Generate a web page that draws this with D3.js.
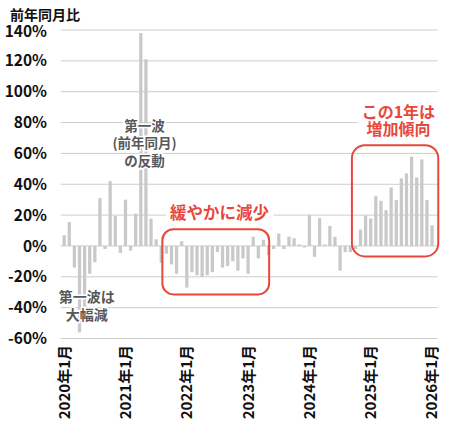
<!DOCTYPE html>
<html>
<head>
<meta charset="utf-8">
<script src="https://cdn.jsdelivr.net/npm/d3@7"></script>
<style>
  html, body { margin: 0; padding: 0; background: #fff; }
  svg { display: block; font-family: "Noto Sans CJK JP", "Noto Sans", sans-serif; }
</style>
</head>
<body>
<div id="chart"></div>
<script>
// -------- Data --------
// monthly categories 2020-01 .. 2026-01
const months = d3.timeMonth.range(new Date(2020, 0, 1), new Date(2026, 1, 1));

// year-over-year change (%)
const yoy = [
  7, 15.5, -14, -56, -46, -18, -10.5, 31, -2, 42, 19.5, -4.5,      // 2020
  30, -3, 21, 138, 121, 17.7, 4.3, -11, -5, -12, -18, 3,           // 2021
  -27, -17, -19, -20, -19, -17, -4, -14, -13, -10, -16, -8,        // 2022
  -18, 6, -8, 4, -6, -2, 8, -2, 6, 5, 1, -1,                        // 2023
  20, -7, 18, 1, 13, 6, -16, -4, -4, -2, 10.6, 19.7,                // 2024
  17.8, 32.3, 29.3, 23.2, 37.9, 29.7, 43.8, 47, 57.9, 44.4, 56.1, 29.7, // 2025
  13.4                                                             // 2026-01
];

const yTicks = [-60, -40, -20, 0, 20, 40, 60, 80, 100, 120, 140];
const xTickMonths = [0, 12, 24, 36, 48, 60, 72];
const xTickLabels = ["2020年1月", "2021年1月", "2022年1月", "2023年1月", "2024年1月", "2025年1月", "2026年1月"];

// -------- Layout --------
const W = 450, H = 434;
const plotL = 60.7, plotR = 435.5, plotT = 30, plotB = 338.5;
const red = "#e8483b";

const svg = d3.select("#chart").append("svg")
  .attr("width", W)
  .attr("height", H);

const x = d3.scaleBand()
  .domain(d3.range(months.length))
  .range([plotL, plotR])
  .padding(0.36);

const y = d3.scaleLinear()
  .domain([-60, 140])
  .range([plotB, plotT]);

// position along the band axis, in "month steps" from the left edge
const xAt = (steps) => plotL + steps * x.step();

// Title
svg.append("text")
  .attr("x", 10).attr("y", 20)
  .attr("font-size", 14).attr("font-weight", 700)
  .attr("fill", "#111")
  .text("前年同月比");

// Grid lines
svg.append("g")
  .selectAll("line")
  .data(yTicks)
  .join("line")
  .attr("x1", plotL).attr("x2", plotR + 2)
  .attr("y1", d => y(d)).attr("y2", d => y(d))
  .attr("stroke", "#cdcdcd").attr("stroke-width", 1);

// Y tick labels
svg.append("g")
  .selectAll("text")
  .data(yTicks)
  .join("text")
  .attr("x", 47)
  .attr("y", d => y(d) + (d === 140 ? 1.5 : 0))
  .attr("dy", "0.36em")
  .attr("text-anchor", "end")
  .attr("font-size", 15.5).attr("font-weight", 700)
  .attr("fill", "#111")
  .text(d => d + "%");

// Bars
svg.append("g")
  .selectAll("rect")
  .data(yoy)
  .join("rect")
  .attr("x", (d, i) => x(i))
  .attr("width", x.bandwidth())
  .attr("y", d => y(Math.max(0, d)))
  .attr("height", d => Math.abs(y(d) - y(0)))
  .attr("fill", "#c9c9c9");

// X tick labels (rotated)
svg.append("g")
  .selectAll("text")
  .data(xTickMonths)
  .join("text")
  .attr("transform", d => `translate(${x(d) + x.bandwidth() / 2},345) rotate(-90)`)
  .attr("dy", "0.36em")
  .attr("text-anchor", "end")
  .attr("font-size", 15).attr("font-weight", 700)
  .attr("fill", "#111")
  .text((d, i) => xTickLabels[i]);

// -------- Annotations --------
// gray notes with white halo
function grayNote(lines, steps, vals, size) {
  svg.append("g")
    .selectAll("text")
    .data(lines)
    .join("text")
    .attr("x", xAt(steps))
    .attr("y", (d, i) => y(vals[i]))
    .attr("text-anchor", "middle")
    .attr("font-size", size).attr("font-weight", 700)
    .attr("fill", "#585858")
    .attr("stroke", "#fff").attr("stroke-width", 3)
    .attr("paint-order", "stroke")
    .text(d => d);
}
grayNote(["第一波は", "大幅減"], 5.1, [-36.6, -47.8], 14);
grayNote(["第一波", "(前年同月)", "の反動"], 16.4, [74.4, 63.4, 51.7], 13.5);

// red rounded boxes
function redBox(s0, s1, v0, v1, r) {
  svg.append("rect")
    .attr("x", xAt(s0)).attr("width", xAt(s1) - xAt(s0))
    .attr("y", y(v0)).attr("height", y(v1) - y(v0))
    .attr("rx", r)
    .attr("fill", "none")
    .attr("stroke", red).attr("stroke-width", 2);
}
redBox(19.9, 40.8, 10.8, -31.4, 11);
redBox(57.0, 73.9, 65.3, -6.8, 13);

// red labels on white background
function redLabel(lines, steps, vals, size) {
  const g = svg.append("g");
  lines.forEach((t, i) => {
    const txt = g.append("text")
      .attr("x", xAt(steps))
      .attr("y", y(vals[i]))
      .attr("text-anchor", "middle")
      .attr("font-size", size).attr("font-weight", 700)
      .attr("fill", red)
      .text(t);
    const bb = txt.node().getBBox();
    g.insert("rect", "text")
      .attr("x", bb.x - 4).attr("y", bb.y)
      .attr("width", bb.width + 8).attr("height", bb.height)
      .attr("fill", "#fff");
  });
}
redLabel(["緩やかに減少"], 31.1, [17.2], 16.5);
redLabel(["この1年は", "増加傾向"], 66.1, [82.9, 71.8], 16);
</script>
</body>
</html>
